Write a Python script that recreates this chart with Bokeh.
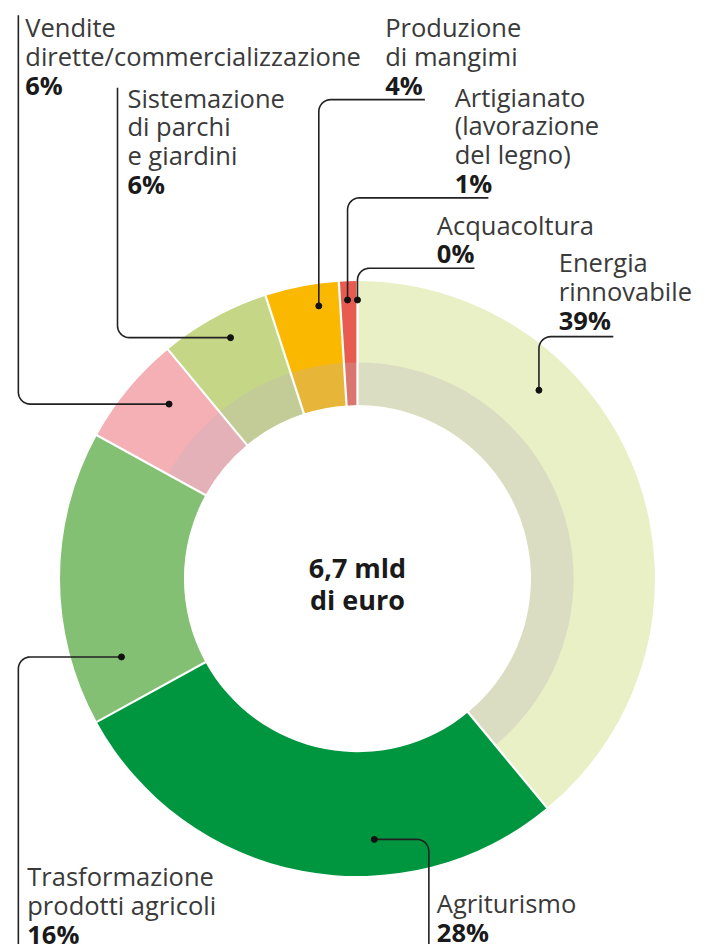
import numpy as np
from bokeh.plotting import figure
from bokeh.models import Range1d
from bokeh.core.properties import value
from bokeh.embed import file_html
from bokeh.resources import INLINE

# ---------------- data ----------------
categories = ["Energia rinnovabile", "Agriturismo", "Trasformazione prodotti agricoli",
              "Vendite dirette/commercializzazione", "Sistemazione di parchi e giardini",
              "Produzione di mangimi", "Artigianato (lavorazione del legno)", "Acquacoltura"]
shares = [39, 28, 16, 6, 6, 4, 1, 0]
pct_labels = ["39%", "28%", "16%", "6%", "6%", "4%", "1%", "0%"]
name_lines = [["Energia", "rinnovabile"], ["Agriturismo"], ["Trasformazione", "prodotti agricoli"],
              ["Vendite", "dirette/commercializzazione"], ["Sistemazione", "di parchi", "e giardini"],
              ["Produzione", "di mangimi"], ["Artigianato", "(lavorazione", "del legno)"], ["Acquacoltura"]]
colors = ["#E9F0C6", "#00963F", "#84C074", "#F5B0B6", "#C6D687", "#FAB800", "#E85B50", "#5BA6D8"]
inner_band = [True, False, False, True, True, True, True, True]
total_text = ["6,7 mld", "di euro"]

# ---------------- layout (reference pixels) ----------------
W, H = 705, 952
FIG_W, FIG_H = W - 8, H - 8
S = FIG_H / H
CX, CY = 360, 583
R_OUT, R_IN, R_BAND = 300, 175, 218
FONT = "Open Sans"
FS = "25.5px"
LINE = 29
TXT_SHIFT = 8   # renderer places alphabetic baseline a little low

# per category: text x, first baseline, leader path (from dot outwards)
label_layout = [
    (563, 272, [(543, 393), (543, 339), (618, 339)]),
    (440, 918, [(377, 846), (432, 846), (432, 952)]),
    (27, 891, [(122, 662), (18, 662), (18, 952)]),
    (25, 35, [(170, 407), (18, 407), (18, 15)]),
    (128, 106, [(232, 340), (118, 340), (118, 88)]),
    (388, 35, [(321, 308), (321, 100), (428, 100)]),
    (458, 105, [(350, 302), (350, 199), (492, 199)]),
    (440, 234, [(360, 302), (360, 270), (478, 270)]),
]

p = figure(width=FIG_W, height=FIG_H, output_backend="svg", toolbar_location=None,
           x_range=Range1d(0, FIG_W / S), y_range=Range1d(-H, 0), min_border=0)
p.axis.visible = False
p.grid.visible = False
p.outline_line_color = None
p.background_fill_color = "white"
p.border_fill_color = "white"

def ang(frac):
    # clockwise-from-top fraction -> bokeh angle (ccw from +x)
    return np.pi / 2 - 2 * np.pi * frac

cum = np.concatenate([[0], np.cumsum(shares)]) / 100.0
starts, ends, cols = [], [], []
for i, s in enumerate(shares):
    if s > 0:
        starts.append(ang(cum[i + 1]))
        ends.append(ang(cum[i]))
        cols.append(colors[i])
p.annular_wedge(x=CX, y=-CY, inner_radius=R_IN, outer_radius=R_OUT,
                start_angle=starts, end_angle=ends, fill_color=cols, line_color=None)

# inner shaded band over the flagged categories (one contiguous run, wrapping over the top)
n = len(shares)
first = next(i for i in range(n) if inner_band[i] and not inner_band[i - 1])
last = next(i for i in range(n) if inner_band[i] and not inner_band[(i + 1) % n])
b_start = ang(cum[last + 1])
b_end = ang(cum[first])
if b_end < b_start:
    b_end += 2 * np.pi
p.annular_wedge(x=CX, y=-CY, inner_radius=R_IN, outer_radius=R_BAND,
                start_angle=b_start, end_angle=b_end, fill_color="#BEB4BE",
                fill_alpha=0.3, line_color=None)

# white separators
bounds = sorted(set(np.round(cum % 1.0, 6)))
x0s, y0s, x1s, y1s = [], [], [], []
for b in bounds:
    a = ang(b)
    x0s.append(CX + (R_IN - 2) * np.cos(a)); y0s.append(-CY + (R_IN - 2) * np.sin(a))
    x1s.append(CX + (R_OUT + 2) * np.cos(a)); y1s.append(-CY + (R_OUT + 2) * np.sin(a))
p.segment(x0=x0s, y0=y0s, x1=x1s, y1=y1s, line_color="white", line_width=2.2)

# leaders with rounded corner
def rounded(path, r=12, steps=10):
    (ax, ay), (bx, by), (cx, cy) = path
    v1 = np.array([ax - bx, ay - by], float); v1 /= np.linalg.norm(v1)
    v2 = np.array([cx - bx, cy - by], float); v2 /= np.linalg.norm(v2)
    p1 = np.array([bx, by]) + v1 * r
    p2 = np.array([bx, by]) + v2 * r
    ctr = np.array([bx, by]) + (v1 + v2) * r
    a1 = np.arctan2(p1[1] - ctr[1], p1[0] - ctr[0])
    a2 = np.arctan2(p2[1] - ctr[1], p2[0] - ctr[0])
    d = (a2 - a1 + np.pi) % (2 * np.pi) - np.pi
    ts = np.linspace(a1, a1 + d, steps)
    xs = [ax] + list(ctr[0] + r * np.cos(ts)) + [cx]
    ys = [ay] + list(ctr[1] + r * np.sin(ts)) + [cy]
    return xs, [-y for y in ys]

for i in range(n):
    tx, ty, path = label_layout[i]
    ty -= TXT_SHIFT
    xs, ys = rounded(path)
    p.line(xs, ys, line_color="#222222", line_width=1.6)
    p.scatter([path[0][0]], [-path[0][1]], size=6, color="#111111")
    lines = name_lines[i]
    for k, t in enumerate(lines):
        p.text(x=[tx], y=[-(ty + k * LINE)], text=[t], text_font=value(FONT),
               text_font_size=FS, text_color="#3a3a3a", text_baseline="alphabetic",
               text_align="left")
    p.text(x=[tx], y=[-(ty + len(lines) * LINE)], text=[pct_labels[i]], text_font=value(FONT),
           text_font_size=FS, text_font_style="bold", text_color="#1a1a1a",
           text_baseline="alphabetic", text_align="left")

p.text(x=[CX, CX], y=[-(580 - TXT_SHIFT), -(612 - TXT_SHIFT)], text=total_text,
       text_font=value(FONT), text_font_size="27px", text_font_style="bold",
       text_color="#1a1a1a", text_baseline="alphabetic", text_align="center")

open("out.html", "w").write(file_html(p, INLINE))
